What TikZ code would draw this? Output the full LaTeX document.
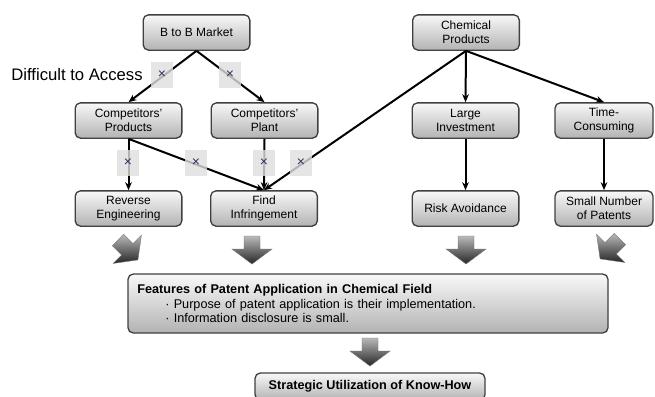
\documentclass[tikz,border=0pt]{standalone}
\usepackage{fontspec}
\setmainfont{Liberation Sans}
\usetikzlibrary{arrows.meta}
\newcommand{\blkarrow}[3]{%
  \begin{scope}[shift={(#1,#2)}, rotate=#3]
    \shade[top color=gray!55, bottom color=black!85, draw=black!55, line width=0.3pt]
      (-8,-14) -- (8,-14) -- (8,-1) -- (20,-1) -- (0,14) -- (-20,-1) -- (-8,-1) -- cycle;
  \end{scope}}
\begin{document}
\begin{tikzpicture}[x=0.75pt,y=-0.75pt,
  box/.style={draw=black!75, line width=1pt, rounded corners=4pt, top color=gray!5,
    bottom color=gray!60, align=center, font=\fontsize{9}{10.5}\selectfont, inner sep=1pt,
    minimum width=80pt, minimum height=26.5pt},
  conn/.style={line width=1.5pt, -{Stealth[length=6pt,width=5pt]}},
  xbox/.style={fill=gray!25, fill opacity=0.8, text opacity=1, minimum width=16pt,
    minimum height=19pt, inner sep=0pt, font=\fontsize{10.5}{10.5}\selectfont, text=black!75!blue!60!gray},
]
\useasboundingbox (0,0) rectangle (655,396);

% boxes
\node[box] (bbm) at (196.5,32.5) {B to B Market};
\node[box] (chem) at (466,32.5) {Chemical\\Products};
\node[box] (cprod) at (128.5,120.5) {Competitors’\\Products};
\node[box] (cplant) at (264.5,120.5) {Competitors’\\Plant};
\node[box] (large) at (465.5,120.5) {Large\\Investment};
\node[box, minimum width=73.5pt] (time) at (604,120.5) {Time-\\Consuming};
\node[box] (rev) at (128.5,208.5) {Reverse\\Engineering};
\node[box] (find) at (264,208.5) {Find\\Infringement};
\node[box] (risk) at (465.5,208.5) {Risk Avoidance};
\node[box, minimum width=73.5pt] (small) at (604,208.5) {Small Number\\of Patents};

\node[box, minimum width=360pt, minimum height=44.25pt, text width=346pt, inner xsep=7pt,
  align=left, font=\fontsize{9.5}{11.2}\selectfont] (feat) at (368,303.5)
  {\textbf{Features of Patent Application in Chemical Field}\\
   \hspace*{21pt}· Purpose of patent application is their implementation.\\
   \hspace*{21pt}· Information disclosure is small.};
\node[box, minimum width=172.5pt, minimum height=20.25pt, font=\bfseries\fontsize{9.5}{11}\selectfont]
  (strat) at (370,386.5) {Strategic Utilization of Know-How};

\node[font=\fontsize{12.5}{14}\selectfont, inner sep=0pt] (dta) at (77,75) {Difficult to Access};

% connectors
\draw[conn] (bbm.south) -- (cprod.north);
\draw[conn] (bbm.south) -- (cplant.north);
\draw[conn] (cprod.south) -- (rev.north);
\draw[conn] (cprod.south) -- (find.north);
\draw[conn] (cplant.south) -- (find.north);
\draw[conn] (chem.south) -- (find.north);
\draw[conn] (chem.south) -- (large.north);
\draw[conn] (chem.south) -- (time.north);
\draw[conn] (large.south) -- (risk.north);
\draw[conn] (time.south) -- (small.north);

% blocked marks
\node[xbox] (x1) at (162,75) {×};
\node[xbox] (x2) at (230,75) {×};
\node[xbox] (x3) at (128,163) {×};
\node[xbox] (x4) at (196,163) {×};
\node[xbox] (x5) at (264,163) {×};
\node[xbox] (x6) at (301,163) {×};

% block arrows
\blkarrow{128}{250}{45}
\blkarrow{252}{250}{0}
\blkarrow{466}{250}{0}
\blkarrow{610}{249}{-45}
\blkarrow{370}{352}{0}
\end{tikzpicture}
\end{document}
